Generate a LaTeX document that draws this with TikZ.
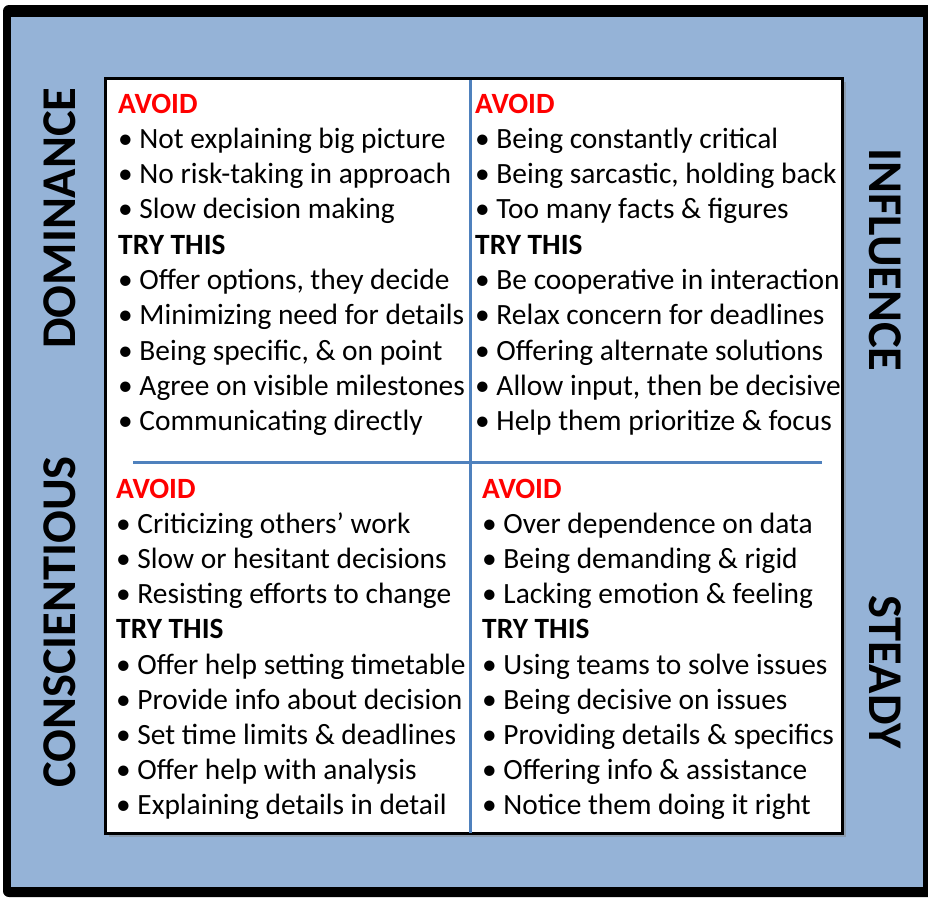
\documentclass[tikz,border=0pt]{standalone}
\usepackage{fontspec}
\setmainfont{Carlito}
\usetikzlibrary{shadows}
\definecolor{frameblue}{HTML}{95B3D7}
\definecolor{crossblue}{HTML}{4F81BD}
\definecolor{avoidred}{HTML}{FF0000}
\newcommand{\avoidhd}{\textcolor{avoidred}{\textbf{AVOID}}}
\newcommand{\tryhd}{\textbf{TRY THIS}}
\tikzset{
  line/.style={anchor=base west, inner sep=0pt, font=\fontsize{29.4}{34}\selectfont},
  side/.style={inner sep=0pt, font=\fontsize{48.5}{52}\bfseries\selectfont},
  cross/.style={crossblue, line width=3pt}
}
\begin{document}
\begin{tikzpicture}[x=1pt,y=-1pt]
\useasboundingbox (0,0) rectangle (928,898);
% frame
\fill[black, rounded corners=6pt] (3,5) rectangle (940,897);
\fill[frameblue] (11,17) rectangle (923,887);
% white board
\draw[black, line width=3pt, fill=white, drop shadow={shadow xshift=4pt, shadow yshift=-4pt, opacity=0.45}] (105,78) rectangle (842,833);
\draw[cross] (470,80) -- (470,833);
\draw[cross] (133,462) -- (822,462);
% side labels
\node[side, rotate=90] (dom) at (60,218) {DOMINANCE};
\node[side, rotate=90] (con) at (60,622) {CONSCIENTIOUS};
\node[side, rotate=-90] (inf) at (885,260) {INFLUENCE};
\node[side, rotate=-90] (ste) at (885,672) {STEADY};
% top left
\foreach \t [count=\i from 0] in {\avoidhd, {• Not explaining big picture}, {• No risk-taking in approach},
  {• Slow decision making}, \tryhd, {• Offer options, they decide}, {• Minimizing need for details},
  {• Being specific, \& on point}, {• Agree on visible milestones}, {• Communicating directly}}
  \node[line] (tl\i) at (118,113+35.3*\i) {\t};
% top right
\foreach \t [count=\i from 0] in {\avoidhd, {• Being constantly critical}, {• Being sarcastic, holding back},
  {• Too many facts \& figures}, \tryhd, {• Be cooperative in interaction}, {• Relax concern for deadlines},
  {• Offering alternate solutions}, {• Allow input, then be decisive}, {• Help them prioritize \& focus}}
  \node[line] (tr\i) at (475,113+35.3*\i) {\t};
% bottom left
\foreach \t [count=\i from 0] in {\avoidhd, {• Criticizing others’ work}, {• Slow or hesitant decisions},
  {• Resisting efforts to change}, \tryhd, {• Offer help setting timetable}, {• Provide info about decision},
  {• Set time limits \& deadlines}, {• Offer help with analysis}, {• Explaining details in detail}}
  \node[line] (bl\i) at (116,498+35.2*\i) {\t};
% bottom right
\foreach \t [count=\i from 0] in {\avoidhd, {• Over dependence on data}, {• Being demanding \& rigid},
  {• Lacking emotion \& feeling}, \tryhd, {• Using teams to solve issues}, {• Being decisive on issues},
  {• Providing details \& specifics}, {• Offering info \& assistance}, {• Notice them doing it right}}
  \node[line] (br\i) at (482,498+35.2*\i) {\t};
\end{tikzpicture}
\end{document}
